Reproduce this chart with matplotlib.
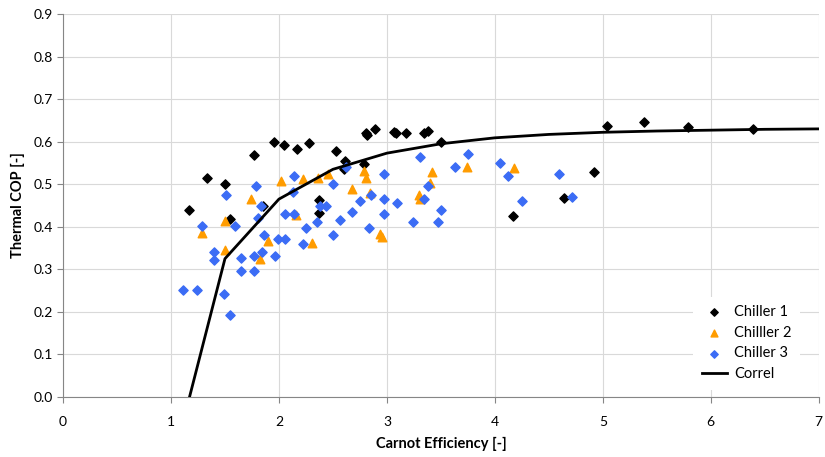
import numpy as np
import matplotlib
matplotlib.use('Agg')
import matplotlib.pyplot as plt

# Chiller 1 (black diamonds)
c1_x = [1.17, 1.33, 1.50, 1.55, 1.77, 1.95, 2.05, 2.17, 2.28, 1.85, 2.53, 2.61,
        2.37, 2.37, 2.60, 2.79, 2.81, 2.82, 2.89, 3.07, 3.08, 3.18, 3.34, 3.38,
        3.50, 4.17, 5.04, 5.38, 5.79, 6.39, 4.92, 4.64]
c1_y = [0.440, 0.514, 0.500, 0.418, 0.568, 0.600, 0.592, 0.583, 0.597, 0.449, 0.578, 0.554,
        0.463, 0.432, 0.536, 0.547, 0.620, 0.616, 0.630, 0.623, 0.620, 0.620, 0.620, 0.625,
        0.599, 0.425, 0.637, 0.646, 0.634, 0.630, 0.529, 0.467]

# Chiller 2 (orange triangles)
c2_x = [1.29, 1.50, 1.50, 1.74, 1.82, 1.90, 2.02, 2.16, 2.22, 2.31, 2.36, 2.45,
        2.68, 2.79, 2.81, 2.84, 2.94, 2.95, 3.30, 3.31, 3.40, 3.42, 3.74, 4.18]
c2_y = [0.385, 0.414, 0.345, 0.465, 0.324, 0.366, 0.507, 0.428, 0.512, 0.362, 0.515, 0.524,
        0.489, 0.531, 0.515, 0.479, 0.383, 0.377, 0.475, 0.465, 0.503, 0.529, 0.540, 0.538]

# Chiller 3 (blue diamonds)
c3_x = [1.11, 1.24, 1.29, 1.40, 1.40, 1.49, 1.51, 1.55, 1.59, 1.65, 1.65, 1.77,
        1.77, 1.79, 1.83, 1.81, 1.84, 1.86, 1.96, 1.99, 2.06, 2.06, 2.14, 2.14,
        2.13, 2.22, 2.25, 2.35, 2.38, 2.44, 2.50, 2.50, 2.57, 2.62, 2.68, 2.75,
        2.83, 2.85, 2.97, 2.97, 2.97, 3.09, 3.24, 3.31, 3.34, 3.38, 3.47, 3.50,
        3.63, 3.75, 4.05, 4.12, 4.25, 4.59, 4.71]
c3_y = [0.251, 0.251, 0.402, 0.341, 0.322, 0.242, 0.475, 0.193, 0.402, 0.327, 0.296, 0.296,
        0.331, 0.496, 0.449, 0.421, 0.341, 0.381, 0.331, 0.371, 0.371, 0.430, 0.430, 0.519,
        0.482, 0.360, 0.397, 0.411, 0.449, 0.449, 0.500, 0.381, 0.416, 0.540, 0.435, 0.461,
        0.397, 0.475, 0.524, 0.465, 0.430, 0.456, 0.411, 0.564, 0.465, 0.496, 0.411, 0.439,
        0.540, 0.571, 0.550, 0.519, 0.461, 0.524, 0.470]

# correlation curve
corr_x = [1.0, 1.5, 2.0, 2.5, 3.0, 3.5, 4.0, 4.5, 5.0, 5.5, 6.0, 6.5, 7.0]
corr_y = [-0.17, 0.325, 0.465, 0.535, 0.573, 0.595, 0.609, 0.617, 0.622, 0.625, 0.627, 0.629, 0.630]

plt.rcParams['font.family'] = ['Lato', 'DejaVu Sans']

fig = plt.figure(figsize=(8.25, 4.57), dpi=100)
ax = fig.add_axes([0.0764, 0.1313, 0.916, 0.8381])

ax.scatter(c1_x, c1_y, marker='D', s=22, color='black', label='Chiller 1', zorder=3)
ax.scatter(c2_x, c2_y, marker='^', s=38, color='#FF9C00', label='Chilller 2', zorder=3)
ax.scatter(c3_x, c3_y, marker='D', s=22, color='#3B6CF5', label='Chiller 3', zorder=3)
ax.plot(corr_x, corr_y, color='black', lw=2, label='Correl', zorder=4)

ax.set_xlim(0, 7)
ax.set_ylim(0, 0.9)
ax.set_xticks(range(0, 8))
ax.set_yticks(np.arange(0, 0.91, 0.1))
ax.set_yticklabels(['%.1f' % v for v in np.arange(0, 0.91, 0.1)])
ax.grid(True, color='#D9D9D9', lw=0.8)
ax.set_axisbelow(True)

for s in ['top', 'right']:
    ax.spines[s].set_visible(False)
for s in ['left', 'bottom']:
    ax.spines[s].set_color('#868686')
ax.tick_params(axis='both', colors='#868686', labelcolor='black', labelsize=10, length=4)
ax.tick_params(axis='x', pad=10)

ax.set_xlabel('Carnot Efficiency [-]', fontsize=10.5, fontweight='bold', labelpad=6)
ax.set_ylabel('Thermal COP [-]', fontsize=10.5, fontweight='bold', labelpad=6)

leg = ax.legend(loc='lower right', bbox_to_anchor=(0.985, 0.0), frameon=True,
                fontsize=10.5, handlelength=1.7, handletextpad=0.5, markerscale=0.8,
                labelspacing=0.45, borderpad=0.6)
leg.get_frame().set_edgecolor('none')
leg.get_frame().set_facecolor('white')
leg.get_frame().set_alpha(1)

fig.savefig('out.png', dpi=100)
